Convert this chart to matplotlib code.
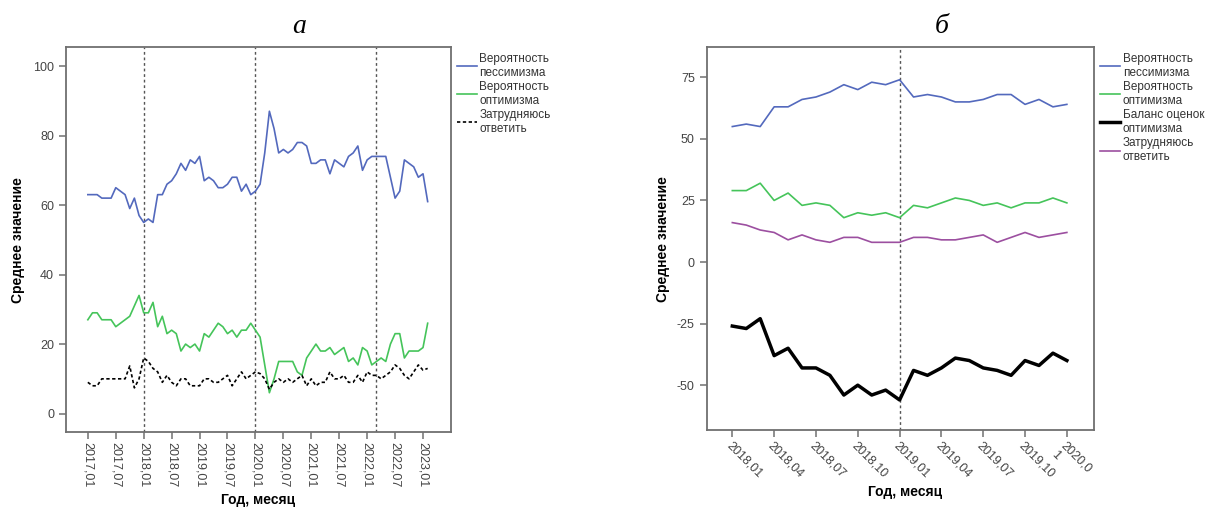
import matplotlib
matplotlib.use('Agg')
import matplotlib.pyplot as plt
import numpy as np

plt.rcParams['font.family'] = ['Liberation Sans', 'DejaVu Sans']
plt.rcParams['axes.unicode_minus'] = False

# panel a: monthly, 2017.01 .. 2023.02
left_ticks = ['2017,01', '2017,07', '2018,01', '2018,07', '2019,01', '2019,07', '2020,01',
              '2020,07', '2021,01', '2021,07', '2022,01', '2022,07', '2023,01']
left_pess = [63, 63, 63, 62, 62, 62, 65, 64, 63, 59, 62, 57, 55, 56, 55, 63, 63, 66, 67, 69,
             72, 70, 73, 72, 74, 67, 68, 67, 65, 65, 66, 68, 68, 64, 66, 63, 64, 66, 75, 87,
             82, 75, 76, 75, 76, 78, 78, 77, 72, 72, 73, 73, 69, 73, 72, 71, 74, 75, 77, 70,
             73, 74, 74, 74, 74, 68, 62, 64, 73, 72, 71, 68, 69, 61]
left_opt = [27, 29, 29, 27, 27, 27, 25, 26, 27, 28, 31, 34, 29, 29, 32, 25, 28, 23, 24, 23,
            18, 20, 19, 20, 18, 23, 22, 24, 26, 25, 23, 24, 22, 24, 24, 26, 24, 22, 14, 6,
            10, 15, 15, 15, 15, 12, 11, 16, 18, 20, 18, 18, 19, 17, 18, 19, 15, 16, 14, 19,
            18, 14, 15, 16, 15, 20, 23, 23, 16, 18, 18, 18, 19, 26]
left_hard = [9, 8, 8, 10, 10, 10, 10, 10, 10, 13.7, 7.4, 10, 16, 15, 13, 12, 9, 11, 9, 8,
             10, 10, 8, 8, 8, 10, 10, 9, 9, 10, 11, 8, 10, 12, 10, 11, 12, 11.5, 10, 7,
             9, 10, 9, 10, 9, 10, 11, 8, 10, 8, 9, 9, 12, 10, 10, 11, 9, 9, 11, 9,
             12, 11, 11, 10, 11, 12, 14, 13, 11, 10, 12, 14, 12.5, 13]
left_vlines = [12, 36, 62]

# panel b: monthly, 2018.01 .. 2020.01
right_ticks = ['2018,01', '2018,04', '2018,07', '2018,10', '2019,01', '2019,04', '2019,07',
               '2019,10', '2020,0\n1']
right_pess = [55, 56, 55, 63, 63, 66, 67, 69, 72, 70, 73, 72, 74, 67, 68, 67, 65, 65, 66, 68,
              68, 64, 66, 63, 64]
right_opt = [29, 29, 32, 25, 28, 23, 24, 23, 18, 20, 19, 20, 18, 23, 22, 24, 26, 25, 23, 24,
             22, 24, 24, 26, 24]
right_bal = [-26, -27, -23, -38, -35, -43, -43, -46, -54, -50, -54, -52, -56, -44, -46, -43,
             -39, -40, -43, -44, -46, -40, -42, -37, -40]
right_hard = [16, 15, 13, 12, 9, 11, 9, 8, 10, 10, 8, 8, 8, 10, 10, 9, 9, 10, 11, 8,
              10, 12, 10, 11, 12]
right_vlines = [12]

blue = '#5369bd'
green = '#45c45a'
purple = '#9c4fa0'
frame = '#707070'
txt = '#333333'

fig = plt.figure(figsize=(12.08, 5.08), dpi=100)
ax1 = fig.add_axes([0.0546, 0.1496, 0.3187, 0.758])
ax2 = fig.add_axes([0.585, 0.1545, 0.3209, 0.753])


def style(ax):
    for s in ax.spines.values():
        s.set_color(frame)
        s.set_linewidth(1.3)
    ax.tick_params(axis='both', colors=frame, labelcolor='#444444', labelsize=9, length=5,
                   width=1.1, direction='out')
    ax.tick_params(axis='x', pad=2)
    ax.tick_params(top=False, right=False)


def add_legend(ax):
    ax.legend(loc='upper left', bbox_to_anchor=(1.0, 1.0), frameon=False, fontsize=8.5,
              handlelength=1.7, handletextpad=0.2, labelspacing=0.2, borderaxespad=0.1,
              labelcolor=txt)


# --- a ---
x1 = np.arange(len(left_pess))
for v in left_vlines:
    ax1.axvline(v, color='#555555', lw=1, ls=(0, (2, 2)), zorder=1)
ax1.plot(x1, left_pess, color=blue, lw=1.2, label='Вероятность\nпессимизма')
ax1.plot(x1, left_opt, color=green, lw=1.2, label='Вероятность\nоптимизма')
ax1.plot(x1, left_hard, color='black', lw=1.2, ls=(0, (2, 1.5)), label='Затрудняюсь\nответить')
ax1.set_xlim(-4.7, 78)
ax1.set_ylim(-5.3, 105.5)
ax1.set_yticks([0, 20, 40, 60, 80, 100])
ax1.set_xticks(np.arange(0, 6 * len(left_ticks), 6))
ax1.set_xticklabels(left_ticks, rotation=270, va='top', ha='center')
style(ax1)
add_legend(ax1)

# --- b ---
x2 = np.arange(len(right_pess))
for v in right_vlines:
    ax2.axvline(v, color='#555555', lw=1, ls=(0, (2, 2)), zorder=1)
ax2.plot(x2, right_pess, color=blue, lw=1.2, label='Вероятность\nпессимизма')
ax2.plot(x2, right_opt, color=green, lw=1.2, label='Вероятность\nоптимизма')
ax2.plot(x2, right_bal, color='black', lw=2.5, label='Баланс оценок\nоптимизма')
ax2.plot(x2, right_hard, color=purple, lw=1.2, label='Затрудняюсь\nответить')
ax2.set_xlim(-1.84, 25.97)
ax2.set_ylim(-68, 87.3)
ax2.set_yticks([-50, -25, 0, 25, 50, 75])
ax2.set_xticks(np.arange(0, 3 * len(right_ticks), 3))
ax2.set_xticklabels(right_ticks, rotation=-45, ha='left', va='top', rotation_mode='anchor')
style(ax2)
add_legend(ax2)

# titles and axis labels
fig.text(0.248, 0.947, 'а', fontsize=20, style='italic', family='Liberation Serif',
         ha='center', va='center')
fig.text(0.78, 0.947, 'б', fontsize=20, style='italic', family='Liberation Serif',
         ha='center', va='center')
fig.text(0.0149, 0.528, 'Среднее значение', rotation=90, fontsize=10, fontweight='bold',
         ha='center', va='center')
fig.text(0.549, 0.53, 'Среднее значение', rotation=90, fontsize=10, fontweight='bold',
         ha='center', va='center')
fig.text(0.2136, 0.016, 'Год, месяц', fontsize=10, fontweight='bold', ha='center', va='center')
fig.text(0.749, 0.031, 'Год, месяц', fontsize=10, fontweight='bold', ha='center', va='center')

plt.savefig('out.png', dpi=100)
